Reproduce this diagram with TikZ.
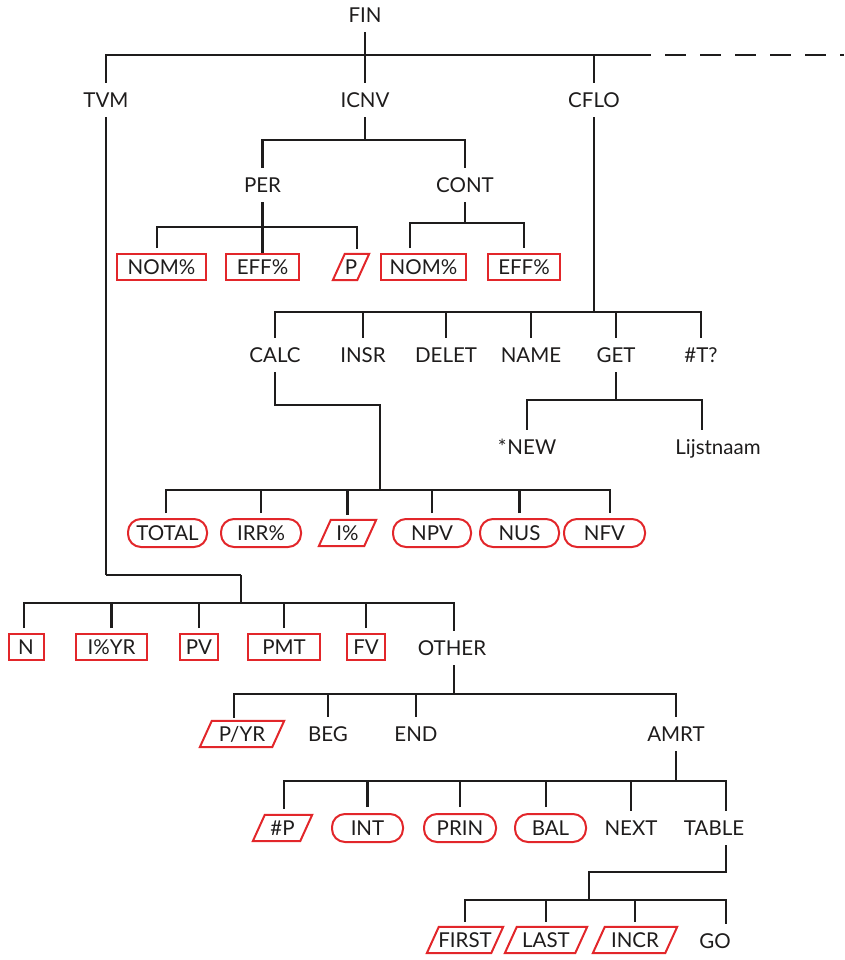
\documentclass[tikz,border=0pt]{standalone}
\usepackage{fontspec}
\setmainfont{Lato}
\usetikzlibrary{calc}
\definecolor{keyred}{RGB}{226,38,42}
\definecolor{lnc}{RGB}{30,28,28}
\newcommand{\lbfont}{\fontsize{20.5pt}{24pt}\selectfont}
\newcommand{\drawpara}[1]{\draw[draw=keyred,line width=2pt,line join=miter]
  ([xshift=6pt]#1.north west) -- ([xshift=6pt]#1.north east) --
  ([xshift=-6pt]#1.south east) -- ([xshift=-6pt]#1.south west) -- cycle;}
\begin{document}
\begin{tikzpicture}[x=1pt,y=-1pt,
  ln/.style={line width=2.3pt,draw=lnc},
  thinln/.style={line width=1.3pt,draw=lnc},
  lbl/.style={font=\lbfont,text=lnc,text height=15pt,text depth=0pt,inner xsep=1pt,inner ysep=9.5pt},
  kbox/.style={draw=keyred,line width=2pt,font=\lbfont,text=lnc,text height=15pt,text depth=0pt,inner sep=0pt,minimum height=26pt},
  koval/.style={kbox,rounded corners=13pt,minimum height=28pt},
  kpara/.style={font=\lbfont,text=lnc,text height=15pt,text depth=0pt,inner sep=0pt,minimum height=26pt},
  gs/.style={shorten <=5pt},
  ge/.style={shorten >=5pt}]
\path[use as bounding box] (0,0) rectangle (844,960);

% ---------- level 0 / 1
\node[lbl] (fin) at (365,15) {FIN};
\node[lbl] (tvm) at (106,100) {TVM};
\node[lbl] (icnv) at (365,100) {ICNV};
\node[lbl] (cflo) at (594,100) {CFLO};
\coordinate (b0) at (365,55);
\coordinate (b0r) at (651,55);
\coordinate (b0d) at (844,55);
\draw[ln] (fin.south) -- (b0);
\draw[ln] (tvm.north) |- (b0r);
\draw[ln] (icnv.north) -- (icnv.north |- b0);
\draw[ln] (cflo.north) -- (cflo.north |- b0);
\draw[ln,dash pattern=on 21pt off 14pt,dash phase=21pt] (b0r) -- (b0d);

% ---------- ICNV
\node[lbl] (per) at (262.5,185) {PER};
\node[lbl] (cont) at (465,185) {CONT};
\coordinate (b1) at (365,140);
\draw[ln] (icnv.south) -- (b1);
\draw[ln] (per.north) |- (b1) -| (cont.north);

% PER
\node[kbox,minimum width=89pt] (nom1) at (161.5,267) {NOM\%};
\node[kbox,minimum width=73pt] (eff1) at (262.5,267) {EFF\%};
\node[kpara,minimum width=24pt] (p1) at (351,267) {P};
\drawpara{p1}
\coordinate (b2) at (262.5,227);
\draw[ln] (per.south) -- (eff1.north);
\draw[ln,gs,ge] ([xshift=-4.5pt]nom1.north) |- (b2) -| ([xshift=6pt]p1.north);

% CONT
\node[kbox,minimum width=85pt] (nom2) at (423.5,267) {NOM\%};
\node[kbox,minimum width=72pt] (eff2) at (524,267) {EFF\%};
\coordinate (b3) at (465,223);
\draw[ln] (cont.south) -- (b3);
\draw[ln,gs,ge] ([xshift=-13.5pt]nom2.north) |- (b3) -| (eff2.north);

% ---------- CFLO
\node[lbl] (calc) at (275,355) {CALC};
\node[lbl] (insr) at (363,355) {INSR};
\node[lbl] (delet) at (446,355) {DELET};
\node[lbl] (name) at (531,355) {NAME};
\node[lbl] (get) at (616,355) {GET};
\node[lbl] (tq) at (701,355) {\#T?};
\coordinate (b4) at (594,312);
\draw[ln] (cflo.south) -- (b4);
\draw[ln] (calc.north) |- (b4) -| (tq.north);
\foreach \n in {insr,delet,name,get} \draw[ln] (\n.north) -- (\n.north |- b4);

% GET
\node[lbl] (new) at (527,447) {*\kern1pt NEW};
\node[lbl] (lijst) at (718,447) {Lijstnaam};
\coordinate (b5) at (616,400);
\draw[ln] (get.south) -- (b5);
\draw[ln] (new.north) |- (b5) -| ([xshift=-16pt]lijst.north);

% CALC
\node[koval,minimum width=79pt] (total) at (167.5,533) {TOTAL};
\node[koval,minimum width=80pt] (irr) at (261,533) {IRR\%};
\node[kpara,minimum width=45pt] (ipct) at (347.5,533) {I\%};
\drawpara{ipct}
\node[koval,minimum width=78pt] (npv) at (432,533) {NPV};
\node[koval,minimum width=79pt] (nus) at (519.5,533) {NUS};
\node[koval,minimum width=81pt] (nfv) at (604.5,533) {NFV};
\coordinate (c1) at (380,405);
\coordinate (b6) at (380,490);
\draw[ln] (calc.south) |- (c1) -- (b6);
\draw[ln,gs,ge] ([xshift=-1.5pt]total.north) |- (b6) -| ([xshift=5.5pt]nfv.north);
\foreach \n in {irr,ipct,npv,nus} \draw[ln,gs] (\n.north) -- (\n.north |- b6);

% ---------- TVM
\coordinate (c2) at (106,575);
\coordinate (c3) at (241,575);
\coordinate (b7) at (241,603);
\draw[ln] (tvm.south) -- (c2);
\draw[thinln] (c2) -- (c3);
\draw[ln] (c3) -- (b7);
\node[kbox,minimum width=35pt] (n) at (26,647) {N};
\node[kbox,minimum width=71pt] (iyr) at (111.5,647) {I\%YR};
\node[kbox,minimum width=38pt] (pv) at (199,647) {PV};
\node[kbox,minimum width=72pt] (pmt) at (284,647) {PMT};
\node[kbox,minimum width=38pt] (fv) at (366,647) {FV};
\node[lbl] (other) at (452,648) {OTHER};
\draw[ln,gs] ([xshift=-2pt]n.north) |- (b7) -| ([xshift=2pt]other.north);
\foreach \n in {iyr,pv,pmt,fv} \draw[ln,gs] (\n.north) -- (\n.north |- b7);

% OTHER
\node[kpara,minimum width=72pt] (pyr) at (242,734) {P/YR};
\drawpara{pyr}
\node[lbl] (beg) at (328,734) {BEG};
\node[lbl] (endk) at (416,734) {END};
\node[lbl] (amrt) at (676,734) {AMRT};
\coordinate (b8) at (454,694);
\draw[ln] ([xshift=2pt]other.south) -- (b8);
\draw[ln,shorten <=3pt] ([xshift=-8pt]pyr.north) |- (b8) -| (amrt.north);
\foreach \n in {beg,endk} \draw[ln] (\n.north) -- (\n.north |- b8);

% AMRT
\node[kpara,minimum width=47pt] (hp) at (282.5,828) {\#P};
\drawpara{hp}
\node[koval,minimum width=71pt] (int) at (367.5,828) {INT};
\node[koval,minimum width=72pt] (prin) at (460,828) {PRIN};
\node[koval,minimum width=71pt] (bal) at (550.5,828) {BAL};
\node[lbl] (next) at (631,828) {NEXT};
\node[lbl] (table) at (714,828) {TABLE};
\coordinate (b9) at (676,781);
\draw[ln] (amrt.south) -- (b9);
\draw[ln,shorten <=6pt] ([xshift=1.5pt]hp.north) |- (b9) -| ([xshift=12pt]table.north);
\foreach \n in {int,prin} \draw[ln,shorten <=6pt] (\n.north) -- (\n.north |- b9);
\draw[ln,shorten <=6pt] ([xshift=-4.5pt]bal.north) -- ([xshift=-4.5pt]bal.north |- b9);
\draw[ln] (next.north) -- (next.north |- b9);

% TABLE
\node[kpara,minimum width=64pt] (first) at (465,940) {FIRST};
\drawpara{first}
\node[kpara,minimum width=70pt] (last) at (546,940) {LAST};
\drawpara{last}
\node[kpara,minimum width=72pt] (incr) at (635,940) {INCR};
\drawpara{incr}
\node[lbl] (go) at (715,941) {GO};
\coordinate (c4) at (589,872);
\coordinate (b10) at (589,900);
\draw[ln] ([xshift=12pt]table.south) |- (c4) -- (b10);
\draw[ln,gs] (first.north) |- (b10) -| ([xshift=11pt]go.north);
\foreach \n in {last,incr} \draw[ln,gs] (\n.north) -- (\n.north |- b10);
\end{tikzpicture}
\end{document}
